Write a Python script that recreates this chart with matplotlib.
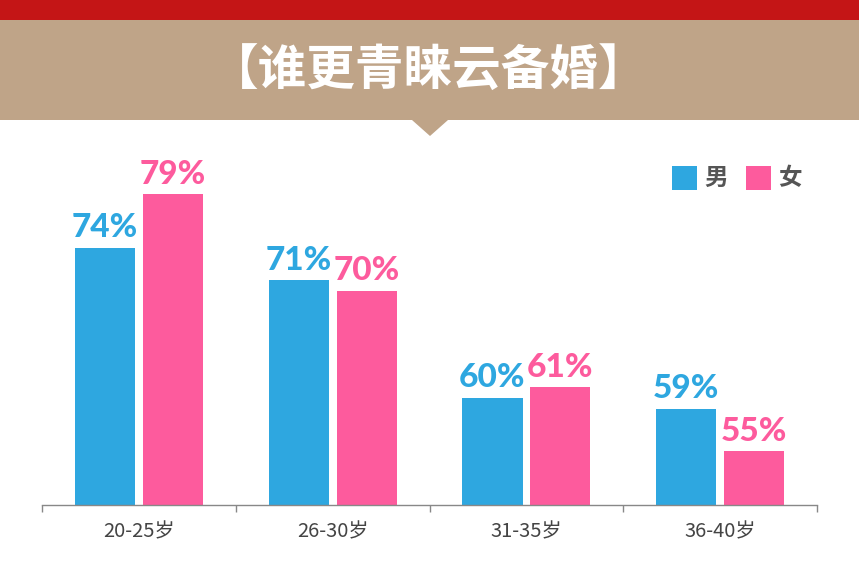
import matplotlib
matplotlib.use("Agg")
import matplotlib.pyplot as plt
from matplotlib.patches import Rectangle, Polygon
import numpy as np

plt.rcParams['font.family'] = ['Noto Sans CJK SC', 'DejaVu Sans']

title = "【谁更青睐云备婚】"
categories = ["20-25岁", "26-30岁", "31-35岁", "36-40岁"]
series_names = ["男", "女"]
male = [74, 71, 60, 59]
female = [79, 70, 61, 55]
colors = ["#2EA7E0", "#FD5B9D"]

W, H = 859, 578
fig = plt.figure(figsize=(W / 100, H / 100), dpi=100)
fig.patch.set_facecolor("white")

# header decorations
fig.patches.append(Rectangle((0, 1 - 20 / H), 1, 20 / H, transform=fig.transFigure,
                             facecolor="#C41516", edgecolor="none", zorder=0))
fig.patches.append(Rectangle((0, 1 - 120 / H), 1, 100 / H, transform=fig.transFigure,
                             facecolor="#BFA488", edgecolor="none", zorder=0))
fig.patches.append(Polygon([(412 / W, 1 - 120 / H), (448 / W, 1 - 120 / H), (430 / W, 1 - 136 / H)],
                           closed=True, transform=fig.transFigure,
                           facecolor="#BFA488", edgecolor="none", zorder=0))
fig.text(429 / W, 1 - 71 / H, title, color="white", fontsize=35, fontweight="heavy",
         ha="center", va="center")

ax = fig.add_axes([42 / W, 1 - 505 / H, 775 / W, 365 / H])
ax.set_facecolor("none")
x = np.arange(len(categories))
bw = 0.31
off = 0.35
ymin, ymax = 50, 50 + 365 / 10.72
for vals, c, d in [(male, colors[0], -off), (female, colors[1], off)]:
    ax.bar(x + d / 2, np.array(vals) - ymin, bottom=ymin,
           width=bw, color=c, edgecolor="none")
    for xi, v in zip(x + d / 2, vals):
        ax.text(xi, v + 0.5, f"{v}%", color=c, fontsize=24, fontweight="black",
                ha="center", va="bottom", family=["Lato", "DejaVu Sans"])

ax.set_xlim(-0.5, len(categories) - 0.5)
ax.set_ylim(ymin, ymax)
ax.set_yticks([])
ax.set_xticks(np.arange(len(categories) + 1) - 0.5, minor=False)
ax.set_xticklabels([])
ax.set_xticks(x, minor=True)
ax.set_xticklabels(categories, minor=True, fontsize=14.5, color="#444444")
ax.tick_params(axis="x", which="major", length=5, color="#888888", width=1, direction="out")
ax.tick_params(axis="x", which="minor", length=0, pad=12)
for s in ["top", "left", "right"]:
    ax.spines[s].set_visible(False)
ax.spines["bottom"].set_color("#888888")
ax.spines["bottom"].set_linewidth(1)

# legend
for i, (name, c) in enumerate(zip(series_names, colors)):
    x0 = (672 + i * 74) / W
    fig.patches.append(Rectangle((x0, 1 - 190 / H), 25 / W, 24 / H, transform=fig.transFigure,
                                 facecolor=c, edgecolor="none"))
    fig.text(x0 + 32 / W, 1 - 178 / H, name, color="#555555", fontsize=17, fontweight="bold",
             ha="left", va="center")

fig.savefig("out.png", dpi=100)
